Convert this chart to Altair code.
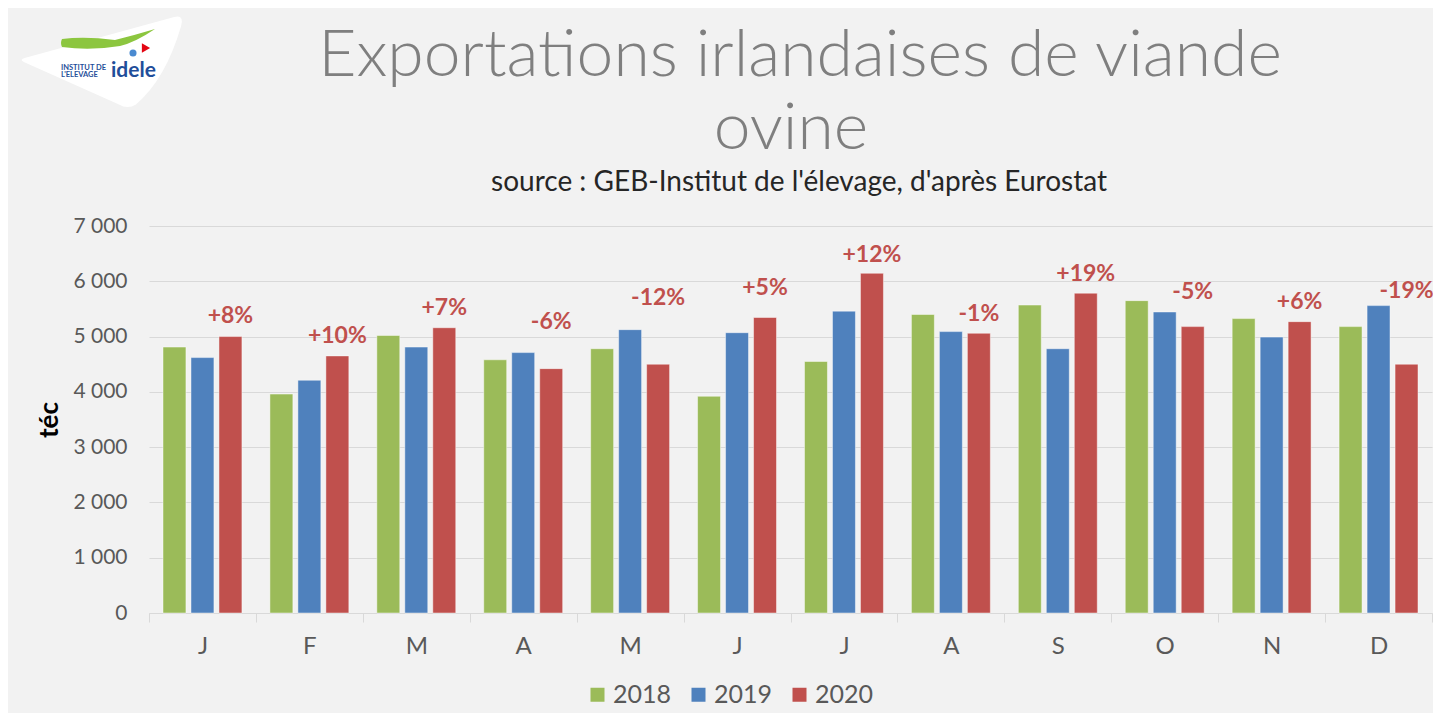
import altair as alt
import pandas as pd

# ---- data ----
months = ["J", "F", "M", "A", "M", "J", "J", "A", "S", "O", "N", "D"]
years = ["2018", "2019", "2020"]
v2018 = [4810, 3960, 5020, 4580, 4780, 3920, 4550, 5400, 5570, 5650, 5325, 5180]
v2019 = [4620, 4210, 4810, 4710, 5125, 5070, 5460, 5090, 4780, 5445, 4990, 5560]
v2020 = [5000, 4650, 5160, 4420, 4500, 5345, 6145, 5060, 5785, 5180, 5270, 4500]
pct_labels = ["+8%", "+10%", "+7%", "-6%", "-12%", "+5%", "+12%", "-1%", "+19%", "-5%", "+6%", "-19%"]
pct_label_y = [5240, 4880, 5390, 5140, 5570, 5750, 6350, 5280, 6010, 5680, 5490, 5700]
y_ticks = [0, 1000, 2000, 3000, 4000, 5000, 6000, 7000]

title_lines = ["Exportations irlandaises de viande", "ovine"]
subtitle = "source : GEB-Institut de l'élevage, d'après Eurostat"

colors = ["#9BBB59", "#4F81BD", "#C0504D"]
FONT = "Lato"

rows = []
for yr, vals in zip(years, [v2018, v2019, v2020]):
    for i, v in enumerate(vals):
        rows.append({"mi": i, "year": yr, "value": v})
df = pd.DataFrame(rows)

lab_df = pd.DataFrame({
    "mi": list(range(12)),
    "year": ["2020"] * 12,
    "value": pct_label_y,
    "pct": pct_labels,
})

month_expr = "[" + ",".join("'" + m + "'" for m in months) + "][datum.value]"

x_enc = alt.X(
    "mi:O",
    scale=alt.Scale(paddingInner=0, paddingOuter=0),
    axis=alt.Axis(
        title=None, labelExpr=month_expr, labelAngle=0, labelFontSize=24,
        labelColor="#595959", labelFont=FONT, labelPadding=12,
        domainColor="#D9D9D9", tickColor="#D9D9D9", tickSize=9,
        tickBand="extent", grid=False,
    ),
)
xo_enc = alt.XOffset("year:N", scale=alt.Scale(domain=years, paddingInner=0.18, paddingOuter=0.5))
y_enc = alt.Y(
    "value:Q",
    scale=alt.Scale(domain=[0, 7000]),
    axis=alt.Axis(
        title="téc", values=y_ticks,
        labelExpr="replace(format(datum.value, ','), ',', ' ')",
        labelFontSize=21, labelColor="#595959", labelFont=FONT, labelPadding=22,
        ticks=False, domain=False, grid=True, gridColor="#D9D9D9", gridWidth=1,
        titleFont=FONT, titleFontSize=26, titleFontWeight="bold", titleColor="#000000",
        titlePadding=10,
    ),
)

bars = alt.Chart(df).mark_bar(stroke="#FFFFFF", strokeOpacity=0.45, strokeWidth=1).encode(
    x=x_enc,
    xOffset=xo_enc,
    y=y_enc,
    color=alt.Color(
        "year:N",
        scale=alt.Scale(domain=years, range=colors),
        legend=alt.Legend(
            title=None, orient="none", direction="horizontal",
            legendX=436, legendY=456,
            symbolType="square", symbolSize=196, symbolStrokeWidth=0,
            labelFontSize=25, labelColor="#595959", labelFont=FONT,
            labelOffset=3, columnPadding=14, padding=0,
        ),
    ),
)

labels = alt.Chart(lab_df).mark_text(
    font=FONT, fontSize=23, fontWeight="bold", color="#C0504D",
    baseline="alphabetic", align="center",
).encode(x=x_enc, xOffset=xo_enc, y=y_enc, text="pct:N")

one = alt.Data(values=[{"k": 1}])

# ---- title & subtitle (text placed above the plot area) ----
title1 = alt.Chart(one).mark_text(
    text=title_lines[0], font=FONT, fontSize=66, fontWeight=300, color="#7F7F7F",
    align="center", baseline="alphabetic",
).encode(x=alt.value(800 - 149), y=alt.value(76 - 226))
title2 = alt.Chart(one).mark_text(
    text=title_lines[1], font=FONT, fontSize=66, fontWeight=300, color="#7F7F7F",
    align="center", baseline="alphabetic",
).encode(x=alt.value(791 - 149), y=alt.value(149 - 226))
sub = alt.Chart(one).mark_text(
    text=subtitle, font=FONT, fontSize=28, color="#262626",
    align="center", baseline="alphabetic",
).encode(x=alt.value(799 - 149), y=alt.value(191 - 226))

# ---- logo (decoration) ----
blob_path = ("M -0.9 -0.05 L 0.85 -0.53 Q 0.97 -0.56 0.93 -0.42 "
             "Q 0.75 0.2 0.4 0.5 Q 0.3 0.56 0.2 0.5 L -0.92 0.0 Q -0.98 -0.03 -0.9 -0.05 Z")
logo_blob = alt.Chart(one).mark_point(
    shape=blob_path, filled=True, fill="#FFFFFF", fillOpacity=1, strokeWidth=0, size=28900
).encode(x=alt.value(102 - 149), y=alt.value(62 - 226))
swoosh_path = ("M -0.86 -0.02 Q -0.4 -0.08 0.2 0.0 Q 0.6 -0.1 1.0 -0.22 "
               "Q 0.6 0.05 0.3 0.12 Q -0.3 0.22 -0.86 0.14 Q -0.9 0.06 -0.86 -0.02 Z")
logo_swoosh = alt.Chart(one).mark_point(
    shape=swoosh_path, filled=True, fill="#8CC63F", fillOpacity=1, strokeWidth=0, size=10000
).encode(x=alt.value(105 - 149), y=alt.value(40 - 226))
logo_red = alt.Chart(one).mark_point(
    shape="triangle-right", filled=True, fill="#E30613", fillOpacity=1, size=90
).encode(x=alt.value(146 - 149), y=alt.value(48 - 226))
logo_drop = alt.Chart(one).mark_point(
    shape="circle", filled=True, fill="#4A8AD0", fillOpacity=1, size=50
).encode(x=alt.value(133 - 149), y=alt.value(53 - 226))
logo_t1 = alt.Chart(one).mark_text(
    text="INSTITUT DE", font=FONT, fontSize=7.5, fontWeight="bold", color="#1F4E9A", align="left", baseline="alphabetic"
).encode(x=alt.value(61 - 149), y=alt.value(70 - 226))
logo_t2 = alt.Chart(one).mark_text(
    text="L'ELEVAGE", font=FONT, fontSize=7.5, fontWeight="bold", color="#1F4E9A", align="left", baseline="alphabetic"
).encode(x=alt.value(61 - 149), y=alt.value(77 - 226))
logo_t3 = alt.Chart(one).mark_text(
    text="idele", font=FONT, fontSize=21, fontWeight="bold", color="#1F4E9A", align="left", baseline="alphabetic"
).encode(x=alt.value(111 - 149), y=alt.value(77 - 226))

chart = alt.layer(
    bars, labels, title1, title2, sub,
    logo_blob, logo_swoosh, logo_red, logo_drop, logo_t1, logo_t2, logo_t3
).properties(
    width=1283,
    height=387,
    background="#F2F2F2",
    autosize=alt.AutoSizeParams(type="none"),
    padding={"left": 141, "top": 218, "right": 1, "bottom": 100},
).configure_view(stroke=None)

chart.save("out.html", embed_options={"renderer": "svg", "actions": False})
